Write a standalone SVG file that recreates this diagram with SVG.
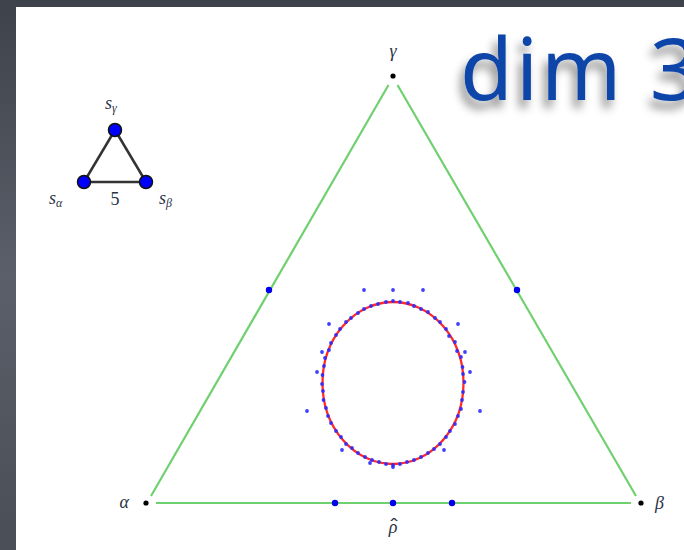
<svg xmlns="http://www.w3.org/2000/svg" width="684" height="550" viewBox="0 0 684 550">
<defs>
<linearGradient id="bg" x1="0" y1="0" x2="0" y2="1">
<stop offset="0" stop-color="#3e424b"/>
<stop offset="0.5" stop-color="#5a5f69"/>
<stop offset="1" stop-color="#4a4e57"/>
</linearGradient>
<filter id="sh" x="-20%" y="-20%" width="140%" height="160%">
<feGaussianBlur in="SourceAlpha" stdDeviation="5"/>
<feOffset dx="-4" dy="8" result="b"/>
<feFlood flood-color="#000" flood-opacity="0.45"/>
<feComposite in2="b" operator="in" result="s"/>
<feMerge><feMergeNode in="s"/><feMergeNode in="SourceGraphic"/></feMerge>
</filter>
</defs>
<style>
.lbl{font-family:"Liberation Serif",serif;font-style:italic;fill:#2b3345}
.sub{font-size:12px}
.edge{stroke:#6fd06f;stroke-width:2.2;fill:none}
.v{fill:#000}
.bd{fill:#0000ee}
.sc{fill:#2a2aff;opacity:0.9}
.dg{stroke:#333;stroke-width:2.5}
.dn{fill:#0000ff;stroke:#111;stroke-width:1.5}
</style>
<rect width="684" height="550" fill="url(#bg)"/>
<rect x="16" y="7" width="668" height="543" fill="#fff"/>

<text x="460" y="100" font-family="Noto Sans, sans-serif" font-size="86" letter-spacing="3" fill="#0b45a8" filter="url(#sh)">dim 3</text>

<g id="dynkin">
<line class="dg" x1="115" y1="130" x2="84" y2="182"/>
<line class="dg" x1="115" y1="130" x2="146" y2="182"/>
<line class="dg" x1="84" y1="182" x2="146" y2="182"/>
<circle class="dn" cx="115" cy="130" r="6.5"/>
<circle class="dn" cx="84" cy="182" r="6.5"/>
<circle class="dn" cx="146" cy="182" r="6.5"/>
<text class="lbl" x="105" y="109" font-size="18">s<tspan class="sub" dy="3">γ</tspan></text>
<text class="lbl" x="49" y="204" font-size="18">s<tspan class="sub" dy="3">α</tspan></text>
<text x="115" y="205" font-family="Liberation Serif, serif" font-size="18" fill="#2b3345" text-anchor="middle">5</text>
<text class="lbl" x="159" y="204" font-size="18">s<tspan class="sub" dy="3">β</tspan></text>
</g>

<g id="connectors">
<line class="edge" x1="388.5" y1="85" x2="151" y2="496"/>
<line class="edge" x1="397.5" y1="85" x2="636" y2="496"/>
<line class="edge" x1="156" y1="503" x2="631" y2="503"/>
</g>

<g id="vertex-gamma"><circle class="v" cx="393" cy="76" r="2.6"/><text class="lbl" x="393" y="57" font-size="18" text-anchor="middle">γ</text></g>
<g id="vertex-alpha"><circle class="v" cx="146" cy="503" r="2.6"/><text class="lbl" x="129" y="508" font-size="18" text-anchor="end">α</text></g>
<g id="vertex-beta"><circle class="v" cx="641" cy="503" r="2.6"/><text class="lbl" x="655" y="509" font-size="18">β</text></g>
<g id="rho-hat"><text class="lbl" x="393" y="533" font-size="18" text-anchor="middle">ρ</text><text x="394" y="531" font-family="DejaVu Sans, sans-serif" font-size="15" fill="#2b3345" text-anchor="middle" transform="translate(394 0) scale(1.6 1) translate(-394 0)">ˆ</text></g>

<g id="side-dots">
<circle class="bd" cx="269" cy="290" r="3.2"/>
<circle class="bd" cx="517" cy="290" r="3.2"/>
<circle class="bd" cx="335" cy="503" r="3.2"/>
<circle class="bd" cx="393" cy="503" r="3.2"/>
<circle class="bd" cx="452" cy="503" r="3.2"/>
</g>

<g id="ellipse">
<ellipse cx="393" cy="383" rx="70.5" ry="81" fill="none" stroke="#ff2a2a" stroke-width="2.3"/>
</g>

<g id="scatter">
<circle class="sc" cx="464.5" cy="382" r="1.9"/><circle class="sc" cx="463" cy="374" r="1.9"/><circle class="sc" cx="462.5" cy="367" r="1.9"/><circle class="sc" cx="461" cy="357" r="1.9"/><circle class="sc" cx="457" cy="351" r="1.9"/><circle class="sc" cx="455" cy="342" r="1.9"/><circle class="sc" cx="449" cy="336" r="1.9"/><circle class="sc" cx="446" cy="329" r="1.9"/><circle class="sc" cx="440" cy="322" r="1.9"/><circle class="sc" cx="435" cy="318" r="1.9"/><circle class="sc" cx="428" cy="312" r="1.9"/><circle class="sc" cx="421" cy="309" r="1.9"/><circle class="sc" cx="414" cy="306" r="1.9"/><circle class="sc" cx="408" cy="303" r="1.9"/><circle class="sc" cx="400" cy="302" r="1.9"/><circle class="sc" cx="393" cy="301" r="1.9"/>
<circle class="sc" cx="322" cy="384" r="1.9"/><circle class="sc" cx="322.5" cy="375" r="1.9"/><circle class="sc" cx="324" cy="366" r="1.9"/><circle class="sc" cx="325" cy="358" r="1.9"/><circle class="sc" cx="329" cy="350" r="1.9"/><circle class="sc" cx="331" cy="343" r="1.9"/><circle class="sc" cx="336" cy="335" r="1.9"/><circle class="sc" cx="340" cy="329" r="1.9"/><circle class="sc" cx="346" cy="322" r="1.9"/><circle class="sc" cx="351" cy="318" r="1.9"/><circle class="sc" cx="358" cy="313" r="1.9"/><circle class="sc" cx="364" cy="309" r="1.9"/><circle class="sc" cx="371" cy="306" r="1.9"/><circle class="sc" cx="378" cy="304" r="1.9"/><circle class="sc" cx="386" cy="302" r="1.9"/>
<circle class="sc" cx="323" cy="391" r="1.9"/><circle class="sc" cx="323.5" cy="400" r="1.9"/><circle class="sc" cx="326" cy="408" r="1.9"/><circle class="sc" cx="328" cy="416" r="1.9"/><circle class="sc" cx="331" cy="423" r="1.9"/><circle class="sc" cx="336" cy="431" r="1.9"/><circle class="sc" cx="341" cy="437" r="1.9"/><circle class="sc" cx="346" cy="444" r="1.9"/><circle class="sc" cx="352" cy="448" r="1.9"/><circle class="sc" cx="358" cy="453" r="1.9"/><circle class="sc" cx="365" cy="457" r="1.9"/><circle class="sc" cx="372" cy="460" r="1.9"/><circle class="sc" cx="379" cy="462" r="1.9"/><circle class="sc" cx="386" cy="464" r="1.9"/><circle class="sc" cx="393" cy="465" r="1.9"/>
<circle class="sc" cx="463" cy="392" r="1.9"/><circle class="sc" cx="462" cy="400" r="1.9"/><circle class="sc" cx="461" cy="409" r="1.9"/><circle class="sc" cx="458" cy="416" r="1.9"/><circle class="sc" cx="455" cy="424" r="1.9"/><circle class="sc" cx="450" cy="431" r="1.9"/><circle class="sc" cx="446" cy="437" r="1.9"/><circle class="sc" cx="440" cy="444" r="1.9"/><circle class="sc" cx="434" cy="449" r="1.9"/><circle class="sc" cx="428" cy="453" r="1.9"/><circle class="sc" cx="421" cy="457" r="1.9"/><circle class="sc" cx="414" cy="460" r="1.9"/><circle class="sc" cx="407" cy="462" r="1.9"/><circle class="sc" cx="400" cy="464" r="1.9"/>
<circle class="sc" cx="364" cy="290" r="1.9"/><circle class="sc" cx="393" cy="290" r="1.9"/><circle class="sc" cx="423" cy="290" r="1.9"/><circle class="sc" cx="329" cy="324" r="1.9"/><circle class="sc" cx="458" cy="324" r="1.9"/><circle class="sc" cx="322" cy="352" r="1.9"/><circle class="sc" cx="465" cy="352" r="1.9"/><circle class="sc" cx="317" cy="372" r="1.9"/><circle class="sc" cx="470" cy="372" r="1.9"/><circle class="sc" cx="307" cy="411" r="1.9"/><circle class="sc" cx="480" cy="411" r="1.9"/><circle class="sc" cx="342" cy="450" r="1.9"/><circle class="sc" cx="444" cy="450" r="1.9"/><circle class="sc" cx="393" cy="467" r="1.9"/><circle class="sc" cx="370" cy="463" r="1.9"/>
</g>
</svg>
